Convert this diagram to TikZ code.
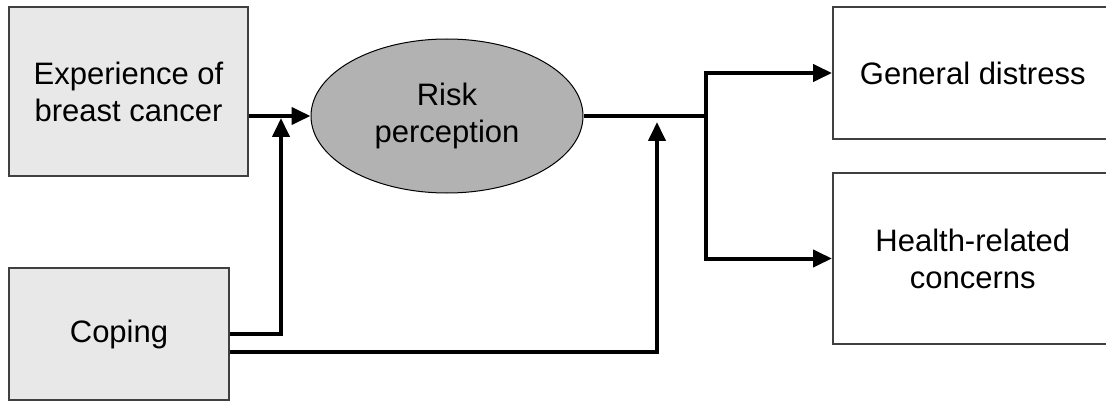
\documentclass[tikz,border=0pt]{standalone}
\usepackage{fontspec}
\setmainfont{Liberation Sans}
\usetikzlibrary{positioning,calc,arrows.meta,shapes.geometric}

\tikzset{
  factor/.style={draw=black!75,line width=1.5pt,fill=black!9,align=center,inner sep=0pt},
  outcome/.style={draw=black!75,line width=1.5pt,fill=white,align=center,inner sep=0pt,anchor=west},
  link/.style={line width=4pt,-{Triangle[length=19pt,width=17pt]}},
}

\begin{document}
\begin{tikzpicture}[x=1pt,y=-1pt,font=\fontsize{31}{37}\selectfont]
\useasboundingbox (0,0) rectangle (1106,401);
% predictor and moderator
\node[factor,minimum width=239pt,minimum height=169pt] (exp) at (128.5,91.5) {Experience of\\breast cancer};
\node[factor,minimum width=220pt,minimum height=132pt] (cop) at (119,334) {Coping};
% mediator
\node[ellipse,draw,line width=1pt,fill=black!30,inner sep=0pt,
      minimum width=272pt,minimum height=154pt,align=center] (risk) at (447,116) {Risk\\perception};
% outcomes, cut off at the right edge
\node[outcome,minimum width=280pt,minimum height=132pt] (gen) at (832,73) {General distress};
\node[outcome,minimum width=280pt,minimum height=171pt] (hea) at (832,258.5) {Health-related\\concerns};
% junctions on the main paths
\coordinate (j1) at (281,116);
\coordinate (j2) at (657,116);
\coordinate (split) at (706,116);
\draw[link] (exp.east |- risk.west) -- (risk.west);
\draw[link,shorten >=2pt] (cop.east) -| (j1);
\draw[link,shorten >=6pt] ($(cop.east)+(0,18)$) -| (j2);
\draw[link] (risk.east) -- (split) |- (gen.west);
\draw[link] (split) |- (hea.west);
\end{tikzpicture}
\end{document}
